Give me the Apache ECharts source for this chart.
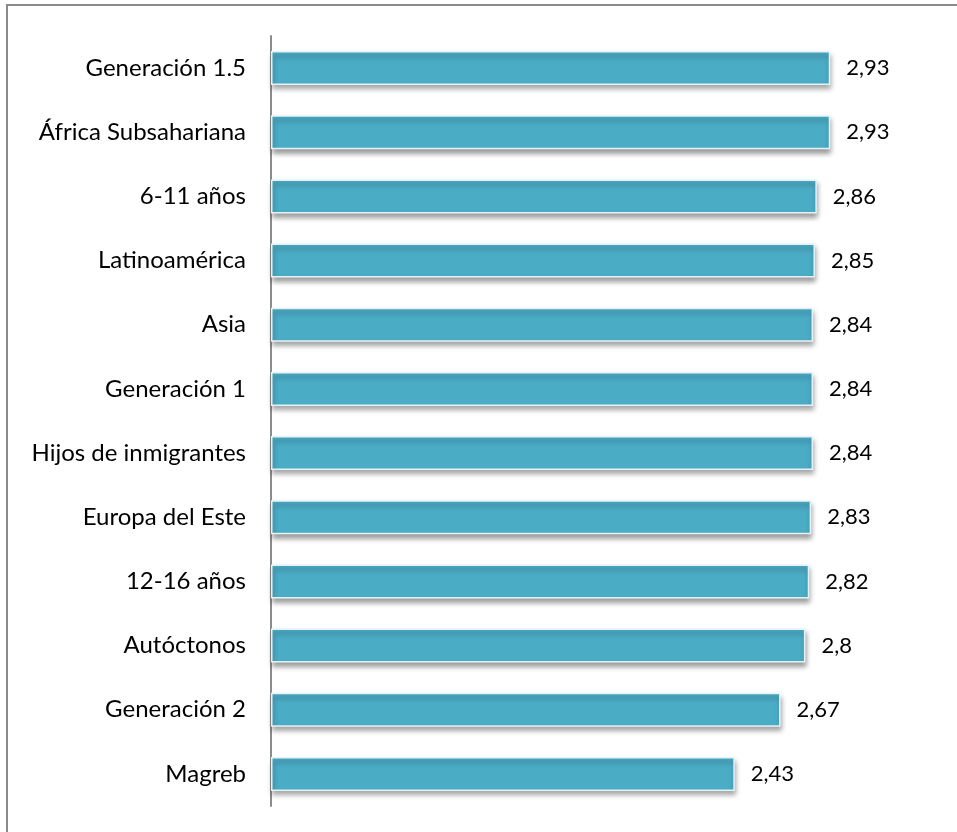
<!DOCTYPE html>
<html>
<head>
<meta charset="utf-8">
<script src="https://cdn.jsdelivr.net/npm/echarts@6/dist/echarts.min.js"></script>
<style>
  html, body { margin: 0; padding: 0; background: #ffffff; }
  #chart { width: 957px; height: 832px; }
</style>
</head>
<body>
<div id="chart"></div>
<script>
// Groups, listed top to bottom
const categories = [
  'Generación 1.5',
  'África Subsahariana',
  '6-11 años',
  'Latinoamérica',
  'Asia',
  'Generación 1',
  'Hijos de inmigrantes',
  'Europa del Este',
  '12-16 años',
  'Autóctonos',
  'Generación 2',
  'Magreb'
];
// Mean score per group
const values = [2.93, 2.93, 2.86, 2.85, 2.84, 2.84, 2.84, 2.83, 2.82, 2.8, 2.67, 2.43];

const chart = echarts.init(document.getElementById('chart'), null, { renderer: 'canvas' });

const fontFamily = 'Lato, "Open Sans", sans-serif';

chart.setOption({
  backgroundColor: '#ffffff',
  animation: false,
  graphic: [{
    type: 'rect',
    shape: { x: 7, y: 5, width: 1000, height: 900 },
    style: { fill: 'none', stroke: '#8a8a8a', lineWidth: 2 },
    silent: true
  }],
  grid: { left: 271, right: 18, top: 36, bottom: 26, containLabel: false },
  xAxis: {
    type: 'value',
    min: 0,
    max: 3.5,
    show: false
  },
  yAxis: {
    type: 'category',
    inverse: true,
    data: categories,
    axisLine: { show: true, lineStyle: { color: '#8c8c8c', width: 2 } },
    axisTick: { show: false },
    axisLabel: {
      color: '#000000',
      fontSize: 24,
      fontFamily: fontFamily,
      margin: 25,
      padding: [4, 0, 0, 0]
    }
  },
  series: [{
    type: 'bar',
    data: values,
    barWidth: 34,
    itemStyle: {
      color: '#4BACC6',
      borderColor: '#e4f3f7',
      borderWidth: 1.5,
      shadowColor: 'rgba(0,0,0,0.38)',
      shadowBlur: 5,
      shadowOffsetX: 1,
      shadowOffsetY: 4
    },
    label: {
      show: true,
      position: 'right',
      distance: 16,
      color: '#000000',
      fontSize: 22,
      fontFamily: fontFamily,
      padding: [5, 0, 0, 0],
      formatter: p => String(p.value).replace('.', ',')
    }
  }]
});
</script>
</body>
</html>
